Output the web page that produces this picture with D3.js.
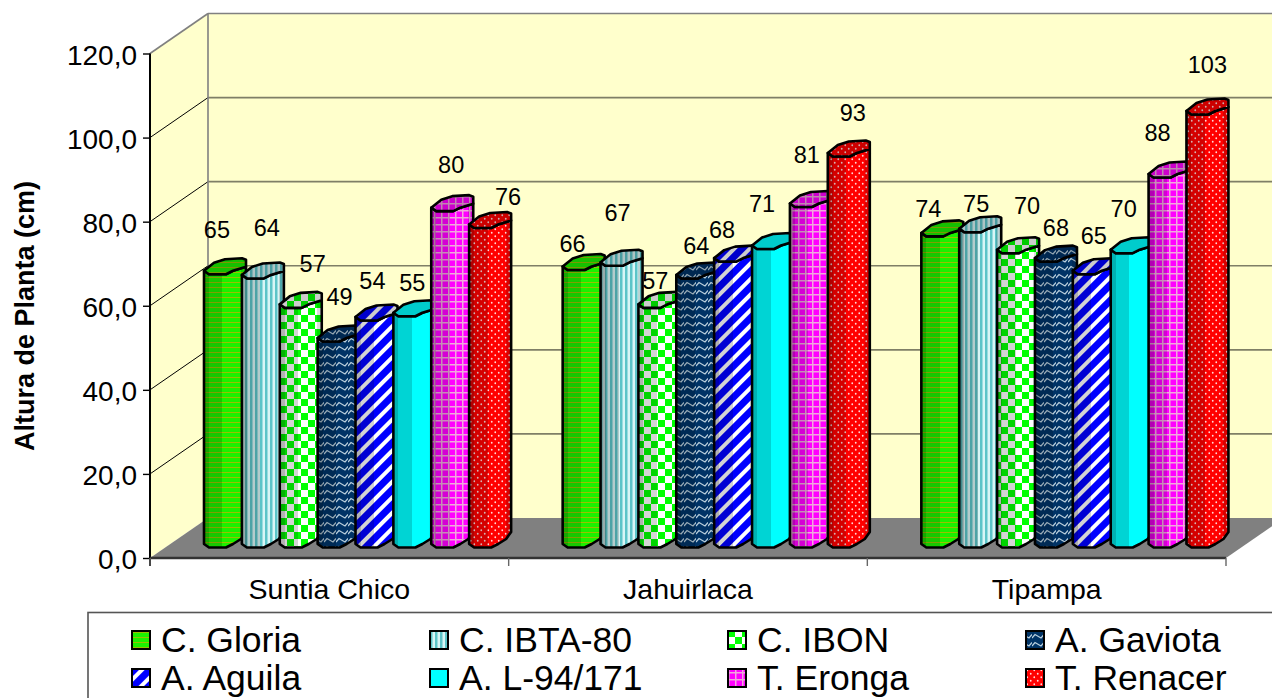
<!DOCTYPE html>
<html lang="es">
<head>
<meta charset="utf-8">
<title>Altura de Planta</title>
<script src="https://cdn.jsdelivr.net/npm/d3@7/dist/d3.min.js"></script>
<style>
  html, body { margin: 0; padding: 0; background: #fff; overflow: hidden; }
  svg { display: block; font-family: "Liberation Sans", Arial, sans-serif; }
</style>
</head>
<body>
<svg id="chart" width="1272" height="698"></svg>
<script>
// Plant height per locality and variety
const localities = ["Suntia Chico", "Jahuirlaca", "Tipampa"];
const varieties = ["C. Gloria", "C. IBTA-80", "C. IBON", "A. Gaviota",
                   "A. Aguila", "A. L-94/171", "T. Eronga", "T. Renacer"];
const suntiaChico = [65, 64, 57, 49, 54, 55, 80, 76];
const jahuirlaca  = [66, 67, 57, 64, 68, 71, 81, 93];
const tipampa     = [74, 75, 70, 68, 65, 70, 88, 103];
const heights = [suntiaChico, jahuirlaca, tipampa];
const yTickValues = [0, 20, 40, 60, 80, 100, 120];
const yTitle = "Altura de Planta (cm)";

// Hand placement of the value labels, [dx, dy] from each bar's top
const labelNudges = [
  [[-6,-44],[6,-50],[14,-43],[3,-44],[-2,-39],[0,-33],[1,-46],[20,-30]],
  [[-9,-26],[-2,-52],[-2,-26],[1,-32],[-11,-31],[-9,-45],[-2,-51],[6,-43]],
  [[-12,-27],[-2,-28],[11,-47],[2,-33],[2,-38],[-6,-44],[-10,-44],[2,-49]]
];

const svg = d3.select("#chart");
const defs = svg.append("defs");

// Scales: front plane of the 3D box, with a fixed depth offset to the back wall
const xCat = d3.scaleBand().domain(localities).range([150, 1226]);
const xBar = d3.scaleBand().domain(varieties).range([54, 357]);
const y = d3.scaleLinear().domain([0, 120]).range([558, 53.5]);
const depth = { x: 58, y: -40 };
const barLift = -14;

const [x0, x1] = xCat.range();
const poly = pts => "M" + pts.map(p => p.join(",")).join("L") + "Z";

// Fill patterns
function tile(id, w, h, bg, draw, transform) {
  const p = defs.append("pattern").attr("id", id).attr("patternUnits", "userSpaceOnUse")
    .attr("width", w).attr("height", h);
  if (transform) p.attr("patternTransform", transform);
  p.append("rect").attr("width", w).attr("height", h).attr("fill", bg);
  draw(p);
}
tile("p0", 5, 5, "#1CF000", p => {
  p.append("rect").attr("y", 2).attr("width", 5).attr("height", 1).attr("fill", "#9AC000");
});
tile("p1", 5, 5, "#D8F6F6", p => {
  p.append("rect").attr("width", 2.5).attr("height", 5).attr("fill", "#5CC4C8");
});
tile("p2", 14, 14, "#FFFFFF", p => {
  p.append("rect").attr("width", 7).attr("height", 7).attr("fill", "#00FF00");
  p.append("rect").attr("x", 7).attr("y", 7).attr("width", 7).attr("height", 7).attr("fill", "#00FF00");
});
tile("p3", 12, 8, "#003366", p => {
  p.append("path").attr("d", "M0,6 L3,2.5 L9,6 L12,2.5").attr("fill", "none")
    .attr("stroke", "#B8CEDC").attr("stroke-width", 1.2);
});
tile("p4", 11, 11, "#0000FF", p => {
  p.append("rect").attr("width", 4).attr("height", 11).attr("fill", "#FFFFFF");
}, "rotate(45)");
tile("p5", 8, 8, "#00FFFF", () => {});
tile("p6", 7, 7, "#FF00FF", p => {
  p.append("rect").attr("width", 1.5).attr("height", 7).attr("fill", "#F0A8DC");
  p.append("rect").attr("width", 7).attr("height", 1.5).attr("fill", "#F0A8DC");
});
tile("p7", 7, 7, "#FF0000", p => {
  p.append("circle").attr("cx", 1.75).attr("cy", 1.75).attr("r", .9).attr("fill", "#FFD8D8");
  p.append("circle").attr("cx", 5.25).attr("cy", 5.25).attr("r", .9).attr("fill", "#FFD8D8");
});

// Hard-edged banding that gives the columns their faceted cylinder shading
const shade = defs.append("linearGradient").attr("id", "shade")
  .attr("x1", 0).attr("x2", 1).attr("y1", 0).attr("y2", 0);
[[0, .3], [.12, .3], [.12, .17], [.44, .17], [.44, 0], [.88, 0], [.88, .14], [1, .14]]
  .forEach(([o, a]) => shade.append("stop").attr("offset", o)
    .attr("stop-color", "#000").attr("stop-opacity", a));

// Box: side wall, back wall, floor
const box = svg.append("g");
box.append("path").attr("fill", "#FFFFCC").attr("d", poly([
  [x0, y(120)], [x0 + depth.x, y(120) + depth.y], [x0 + depth.x, y(0) + depth.y], [x0, y(0)]]));
box.append("path").attr("fill", "#FFFFCC").attr("d", poly([
  [x0 + depth.x, y(120) + depth.y], [x1 + depth.x, y(120) + depth.y],
  [x1 + depth.x, y(0) + depth.y], [x0 + depth.x, y(0) + depth.y]]));
box.append("path").attr("fill", "#808080").attr("d", poly([
  [x0, y(0)], [x0 + depth.x, y(0) + depth.y], [x1 + depth.x, y(0) + depth.y], [x1, y(0)]]));

// Gridlines across the back wall and down the side wall
box.selectAll(".grid-back").data(yTickValues.slice(1)).join("line")
  .attr("x1", x0 + depth.x).attr("x2", x1 + depth.x)
  .attr("y1", d => y(d) + depth.y).attr("y2", d => y(d) + depth.y)
  .attr("stroke", d => d === 120 ? "#808080" : "#7F7F66").attr("stroke-width", 1.6);
box.selectAll(".grid-side").data(yTickValues.slice(1)).join("line")
  .attr("x1", x0).attr("x2", x0 + depth.x)
  .attr("y1", d => y(d)).attr("y2", d => y(d) + depth.y)
  .attr("stroke", d => d === 120 ? "#808080" : "#000")
  .attr("stroke-width", d => d === 120 ? 1.6 : 1);
box.append("line").attr("x1", x0 + depth.x).attr("x2", x0 + depth.x)
  .attr("y1", y(120) + depth.y).attr("y2", y(0) + depth.y)
  .attr("stroke", "#808080").attr("stroke-width", 1.6);

// Outline of one column: left corner of its top sits at (bx, top), its foot at (bx, base)
function frontArc(bx, ly) {
  return [[bx, ly], [bx + 5, ly + 3.5], [bx + 22, ly + 3.5], [bx + 29, ly], [bx + 42, ly - 4]];
}
function bodyPath(bx, top, base) {
  const upper = frontArc(bx, top);
  const lower = frontArc(bx, base);
  lower[4] = [bx + 42, base - 12];
  lower.splice(4, 0, [bx + 37, base - 5]);
  return poly(lower.concat(upper.slice().reverse()));
}
function capPath(bx, top) {
  return poly(frontArc(bx, top).concat([
    [bx + 42, top - 11], [bx + 38, top - 12.5], [bx + 21, top - 11.5], [bx + 10, top - 8]]));
}

// Columns, painted left to right so each one overlaps its neighbour
const base = y(0) + barLift;
const bars = svg.append("g");
localities.forEach((loc, c) => {
  varieties.forEach((name, s) => {
    const bx = xCat(loc) + xBar(name);
    const top = y(heights[c][s]) + barLift;
    const g = bars.append("g");
    const body = bodyPath(bx, top, base);
    const cap = capPath(bx, top);
    g.append("path").attr("d", body).attr("fill", `url(#p${s})`);
    g.append("path").attr("d", body).attr("fill", "url(#shade)")
      .attr("stroke", "#000").attr("stroke-width", 2.6).attr("stroke-linejoin", "round");
    g.append("path").attr("d", cap).attr("fill", `url(#p${s})`);
    g.append("path").attr("d", cap).attr("fill", "#000").attr("fill-opacity", .2)
      .attr("stroke", "#000").attr("stroke-width", 2.6).attr("stroke-linejoin", "round");
  });
});

// Value labels
localities.forEach((loc, c) => {
  varieties.forEach((name, s) => {
    const [dx, dy] = labelNudges[c][s];
    svg.append("text")
      .attr("x", xCat(loc) + xBar(name) + xBar.bandwidth() / 2 + dx)
      .attr("y", y(heights[c][s]) + barLift + 3 + dy)
      .attr("text-anchor", "middle").attr("dominant-baseline", "central")
      .attr("font-size", 23.5).attr("fill", "#000")
      .text(heights[c][s]);
  });
});

// Axes
const decimalComma = d3.formatLocale({ decimal: ",", thousands: ".", grouping: [3], currency: ["", ""] });
const yAxis = d3.axisLeft(y).tickValues(yTickValues).tickFormat(decimalComma.format(".1f"))
  .tickSize(7).tickPadding(6);
const yG = svg.append("g").attr("transform", `translate(${x0},0)`).call(yAxis);
yG.select(".domain").attr("stroke", "#000").attr("stroke-width", 2).attr("d", `M0,${y(120)}V${y(0) + 8}`);
yG.selectAll(".tick line").attr("stroke", "#000").attr("stroke-width", 1.4);
yG.selectAll("text").attr("font-size", 28).attr("font-family", "inherit").attr("fill", "#000")
  .attr("dy", "0.38em");

const xAxis = d3.axisBottom(xCat).tickSize(0).tickPadding(21);
const xG = svg.append("g").attr("transform", `translate(0,${y(0)})`).call(xAxis);
xG.select(".domain").attr("stroke", "#333").attr("stroke-width", 2.4).attr("d", `M${x0},0H${x1}`);
xG.selectAll("text").attr("font-size", 28.5).attr("font-family", "inherit").attr("fill", "#000");
xG.selectAll(".edge").data(localities.map(l => xCat(l)).concat(x1)).join("line")
  .attr("x1", d => d).attr("x2", d => d).attr("y1", 0).attr("y2", 8)
  .attr("stroke", "#666").attr("stroke-width", 1.4);

// Axis title
svg.append("text").attr("transform", "translate(34,316) rotate(-90)")
  .attr("text-anchor", "middle").attr("font-weight", "bold").attr("font-size", 27)
  .text(yTitle);

// Legend, two rows of four
const legendCols = d3.scalePoint().domain(d3.range(4)).range([132, 1026]);
const legendRows = d3.scalePoint().domain([0, 1]).range([640, 678]);
svg.append("rect").attr("x", 88).attr("y", 612.5).attr("width", 1300).attr("height", 200)
  .attr("fill", "#fff").attr("stroke", "#555").attr("stroke-width", 1.6);
varieties.forEach((name, s) => {
  const lx = legendCols(s % 4), ly = legendRows(Math.floor(s / 4));
  svg.append("rect").attr("x", lx).attr("y", ly - 9).attr("width", 18).attr("height", 18)
    .attr("fill", `url(#p${s})`).attr("stroke", "#000").attr("stroke-width", 2);
  svg.append("text").attr("x", lx + 29).attr("y", ly + 12)
    .attr("font-size", 35.5).attr("fill", "#000").text(name);
});
</script>
</body>
</html>
